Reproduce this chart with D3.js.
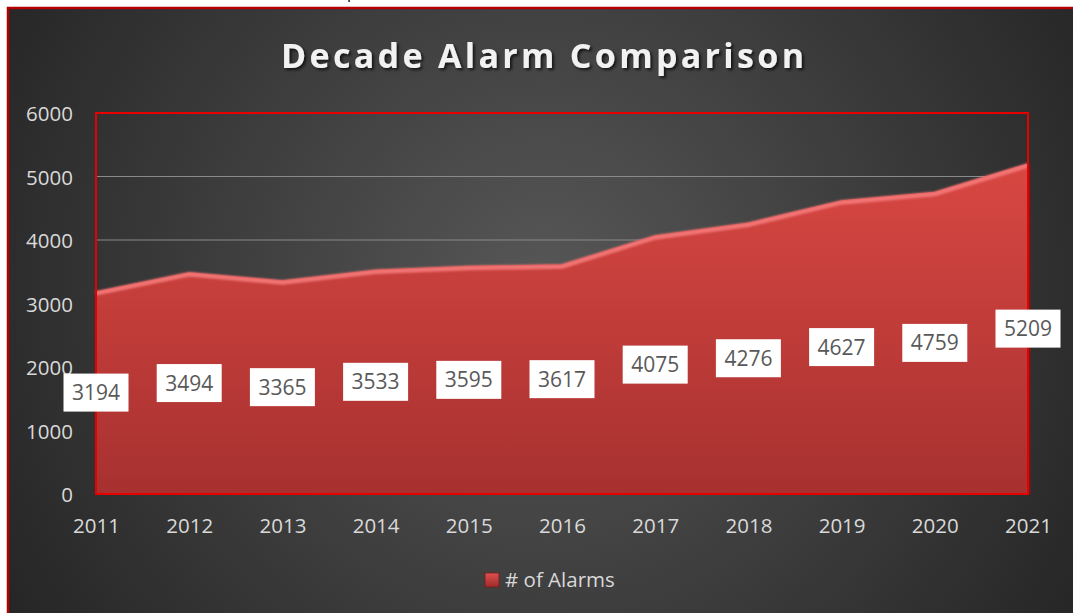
<!DOCTYPE html>
<html><head><meta charset="utf-8">
<script src="https://cdn.jsdelivr.net/npm/d3@7"></script>
<style>
body{margin:0;background:#fff;overflow:hidden;}
svg{display:block;font-family:"Open Sans",sans-serif;}
</style>
</head><body>
<svg id="c" width="1073" height="613"></svg>
<script>
const years = ["2011","2012","2013","2014","2015","2016","2017","2018","2019","2020","2021"];
const alarms = [3194,3494,3365,3533,3595,3617,4075,4276,4627,4759,5209];
const yTicks = [0,1000,2000,3000,4000,5000,6000];
const gridTicks = [1000,2000,3000,4000,5000];
const titleText = "Decade Alarm Comparison";
const seriesName = "# of Alarms";

const W = 1073, H = 613;
const svg = d3.select("#c");
const defs = svg.append("defs");

const bg = defs.append("radialGradient").attr("id","bg")
  .attr("gradientUnits","userSpaceOnUse").attr("cx",545).attr("cy",290).attr("r",620);
bg.append("stop").attr("offset","0%").attr("stop-color","#575757");
bg.append("stop").attr("offset","100%").attr("stop-color","#262626");

const ag = defs.append("linearGradient").attr("id","ag").attr("x1",0).attr("x2",0).attr("y1",0).attr("y2",1);
ag.append("stop").attr("offset","0%").attr("stop-color","#d84742");
ag.append("stop").attr("offset","100%").attr("stop-color","#a73130");

const lg = defs.append("linearGradient").attr("id","lg").attr("x1",0).attr("x2",0).attr("y1",0).attr("y2",1);
lg.append("stop").attr("offset","0%").attr("stop-color","#e05050");
lg.append("stop").attr("offset","100%").attr("stop-color","#9c2a2a");

const sh = defs.append("filter").attr("id","tshadow").attr("x","-10%").attr("y","-30%").attr("width","120%").attr("height","160%");
sh.append("feDropShadow").attr("dx",2).attr("dy",2).attr("stdDeviation",1.5).attr("flood-color","#000").attr("flood-opacity",0.7);

const bl = defs.append("filter").attr("id","blur");
bl.append("feGaussianBlur").attr("stdDeviation",0.9);

// outer frame
svg.append("rect").attr("x",8).attr("y",8).attr("width",W).attr("height",H)
  .attr("fill","url(#bg)").attr("stroke","#b30000").attr("stroke-width",2.5);

// cut-off text at top (as in the reference)
svg.append("text").attr("x",347).attr("y",-2).attr("font-size",16).attr("fill","#000").text("p");

const x = d3.scalePoint().domain(years).range([96,1028]);
const y = d3.scaleLinear().domain([0,6000]).range([494,113]);

// gridlines
svg.append("g").selectAll("line").data(gridTicks).join("line")
  .attr("x1",x.range()[0]).attr("x2",x.range()[1])
  .attr("y1",d=>y(d)).attr("y2",d=>y(d))
  .attr("stroke","#8a8a8a").attr("stroke-width",1.2);

// area
const data = years.map((yr,i)=>({yr, v:alarms[i]}));
const area = d3.area().x(d=>x(d.yr)).y0(y(0)).y1(d=>y(d.v));
svg.append("path").datum(data).attr("d",area).attr("fill","url(#ag)");

// bevel: top highlight
const line = d3.line().x(d=>x(d.yr)).y(d=>y(d.v));
svg.append("path").datum(data).attr("d",line).attr("fill","none")
  .attr("stroke","#f27676").attr("stroke-width",4.5).attr("transform","translate(0,2.2)").attr("filter","url(#blur)");
// right & bottom dark edges
const last = data[data.length-1];
svg.append("line").attr("x1",x(last.yr)+1).attr("x2",x(last.yr)+1).attr("y1",y(last.v)+2).attr("y2",y(0))
  .attr("stroke","#7d1616").attr("stroke-width",3);
svg.append("line").attr("x1",x(data[0].yr)).attr("x2",x(last.yr)+2).attr("y1",y(0)-1).attr("y2",y(0)-1)
  .attr("stroke","#8a2222").attr("stroke-width",3).attr("filter","url(#blur)");

// plot frame
svg.append("rect").attr("x",x.range()[0]).attr("y",y(6000))
  .attr("width",x.range()[1]-x.range()[0]).attr("height",y(0)-y(6000))
  .attr("fill","none").attr("stroke","#e60000").attr("stroke-width",2);

// axes
const yAxis = svg.append("g").attr("transform",`translate(${x.range()[0]},0)`)
  .call(d3.axisLeft(y).tickValues(yTicks).tickFormat(d3.format("d")).tickSize(0).tickPadding(23));
yAxis.select(".domain").remove();
yAxis.selectAll("text").attr("font-size",20.5).attr("fill","#d9d9d9").attr("dy","0.38em")
  .attr("font-family","'Open Sans',sans-serif");

const xAxis = svg.append("g").attr("transform",`translate(0,${y(0)})`)
  .call(d3.axisBottom(x).tickSize(0).tickPadding(24));
xAxis.select(".domain").remove();
xAxis.selectAll("text").attr("font-size",20.5).attr("fill","#d9d9d9")
  .attr("font-family","'Open Sans',sans-serif");

// data labels
const lab = svg.append("g").selectAll("g").data(data).join("g")
  .attr("transform",d=>`translate(${x(d.yr)},${y(d.v/2)})`);
lab.append("rect").attr("x",-32.5).attr("y",-19).attr("width",65).attr("height",38).attr("fill","#fff");
lab.append("text").attr("text-anchor","middle").attr("dy","0.36em")
  .attr("font-size",21).attr("fill","#595959").text(d=>d.v);

// title
const t = svg.append("text").attr("x",542.5).attr("y",68).attr("text-anchor","middle")
  .attr("font-size",34).attr("font-weight",700).attr("fill","#f2f2f2")
  .attr("filter","url(#tshadow)").text(titleText);
const tw = t.node().getComputedTextLength();
const ls = (523 - tw) / (titleText.length - 1);
t.style("letter-spacing", ls + "px").attr("x", 542.5 + ls/2);

// legend
const leg = svg.append("g");
leg.append("rect").attr("x",485).attr("y",573).attr("width",14).attr("height",14)
  .attr("fill","url(#lg)").attr("stroke","#7a1a1a").attr("stroke-width",0.8);
leg.append("text").attr("x",505).attr("y",587).attr("font-size",20.5).attr("fill","#d9d9d9").text(seriesName);
</script>
</body></html>
